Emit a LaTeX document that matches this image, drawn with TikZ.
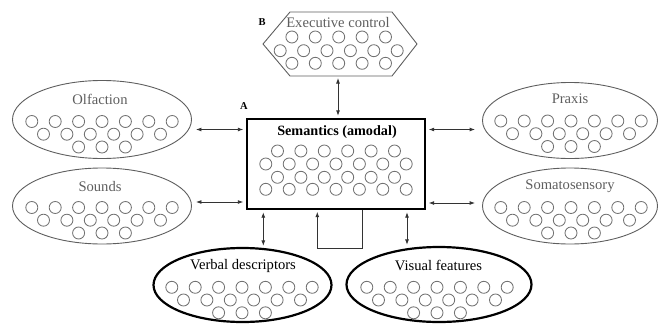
\documentclass[tikz,border=0pt]{standalone}
\usepackage{fontspec}
\setmainfont{Liberation Serif}
\usetikzlibrary{positioning, arrows.meta, shapes.geometric}

\definecolor{fadegray}{HTML}{5E5E5E}
\definecolor{cellgray}{HTML}{727272}
\definecolor{linkgray}{HTML}{333333}

\tikzset{
  thinmod/.style={ellipse, draw=fadegray, line width=0.9pt, inner sep=0pt},
  boldmod/.style={ellipse, draw=black, line width=2.2pt, inner sep=0pt},
  hub/.style={rectangle, draw=black, line width=2.4pt, inner sep=0pt},
  cell/.style={draw=cellgray, line width=0.85pt},
  graylabel/.style={text=fadegray, inner sep=0pt, font=\fontsize{14.6}{16}\selectfont},
  darklabel/.style={text=black, inner sep=0pt, font=\fontsize{14.6}{16}\selectfont},
  letter/.style={inner sep=0pt, font=\bfseries\fontsize{10.5}{12}\selectfont},
  link/.style={draw=linkgray, line width=0.9pt,
    {Latex[length=5.5pt,width=4pt]}-{Latex[length=5.5pt,width=4pt]}},
  loopline/.style={draw=linkgray, line width=0.9pt, -{Latex[length=5.5pt,width=4pt]}}
}

% one row of units, centred on x
\newcommand\cellrow[3]{\foreach \k in {1,...,#3}{\draw[cell] ({#1+(\k-(#3+1)/2)*23.4},{#2}) circle[radius=6pt];}}
% the 7-6-3 group of a modality
\newcommand\cellgroup[2]{\cellrow{#1}{#2}{7}\cellrow{#1}{#2+12.7}{6}\cellrow{#1}{#2+25.5}{3}}

\begin{document}
\begin{tikzpicture}[x=1pt, y=-1pt]
\useasboundingbox (0,0) rectangle (658,324);

% executive control
\draw[fadegray, line width=0.9pt] (290,12) -- (392,12) -- (417,44) -- (392,76) -- (290,76) -- (263,44) -- cycle;
\coordinate (exe) at (338,77);
\node[graylabel] (exeT) at (338,23) {Executive control};
\node[letter] (B) at (262,22) {B};
\cellrow{338.7}{37}{5}
\cellrow{338.7}{50.7}{6}
\cellrow{338.7}{63.3}{5}

% semantic hub
\node[hub, minimum width=178pt, minimum height=90pt] (sem) at (336,164) {};
\node[letter] (A) at (244,106.5) {A};
\node[inner sep=0pt, font=\bfseries\fontsize{14.2}{16}\selectfont] (semT) at (337,132.5) {Semantics (amodal)};
\cellrow{336}{151}{6}
\cellrow{336}{164}{7}
\cellrow{336}{177.3}{6}
\cellrow{336}{189.3}{7}

% modalities
\node[thinmod, minimum width=179pt, minimum height=78pt] (olf) at (102,119.5) {};
\node[graylabel] (olfT) at (100,99) {Olfaction};
\cellgroup{102}{121.5}
\node[thinmod, minimum width=179pt, minimum height=76pt] (snd) at (102,206) {};
\node[graylabel] (sndT) at (100,186.5) {Sounds};
\cellgroup{102}{207.5}
\node[thinmod, minimum width=175pt, minimum height=76pt] (prx) at (570,120.5) {};
\node[graylabel] (prxT) at (570,99) {Praxis};
\cellgroup{571}{121}
\node[thinmod, minimum width=175pt, minimum height=76pt] (som) at (570,206) {};
\node[graylabel] (somT) at (570,186.5) {Somatosensory};
\cellgroup{571}{207.5}
\node[boldmod, minimum width=178pt, minimum height=74pt] (vrb) at (242.5,285) {};
\node[darklabel] (vrbT) at (243,266) {Verbal descriptors};
\cellgroup{242}{287.3}
\node[boldmod, minimum width=185pt, minimum height=75pt] (vis) at (439,284.5) {};
\node[darklabel] (visT) at (438.5,265.5) {Visual features};
\cellgroup{437}{287.3}

% connections
\draw[link, shorten <=1pt, shorten >=2pt] (exe) -- (exe |- sem.north);
\coordinate (olfR) at ([shift={(4,10)}]olf.east);
\draw[link, shorten >=2.5pt] (olfR) -- (olfR -| sem.west);
\coordinate (sndR) at ([shift={(4,-4)}]snd.east);
\draw[link, shorten >=2.5pt] (sndR) -- (sndR -| sem.west);
\coordinate (prxL) at ([shift={(-7,9)}]prx.west);
\draw[link, shorten <=2.5pt] (prxL -| sem.east) -- (prxL);
\coordinate (somL) at ([shift={(-7,-3)}]som.west);
\draw[link, shorten <=2.5pt] (somL -| sem.east) -- (somL);
\coordinate (vrbU) at ([xshift=-72.7pt]sem.south);
\draw[link, shorten <=2pt, shorten >=1pt] (vrbU) -- (vrbU |- vrb.north);
\coordinate (visU) at ([xshift=71pt]sem.south);
\draw[link, shorten <=2pt, shorten >=1pt] (visU) -- (visU |- vis.north);
\draw[loopline, shorten >=1.5pt] ([xshift=26.7pt]sem.south) -- ++(0,38.7) -| ([xshift=-18.7pt]sem.south);
\end{tikzpicture}
\end{document}
